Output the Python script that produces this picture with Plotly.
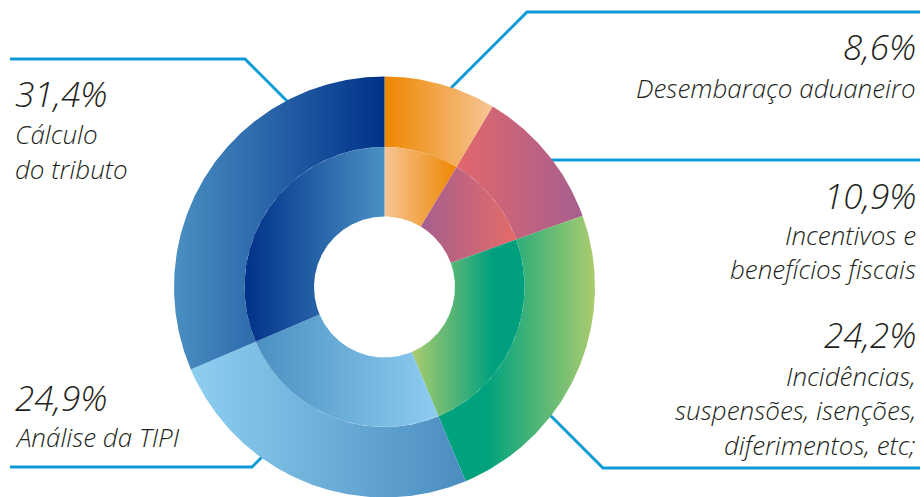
import numpy as np
import plotly.graph_objects as go

# Shares (%) clockwise from 12 o'clock
categories = ["Desembaraço aduaneiro", "Incentivos e benefícios fiscais",
              "Incidências, suspensões, isenções, diferimentos, etc;",
              "Análise da TIPI", "Cálculo do tributo"]
values = [8.6, 10.9, 24.2, 24.9, 31.4]
label_lines = [["Desembaraço aduaneiro"],
               ["Incentivos e", "benefícios fiscais"],
               ["Incidências,", "suspensões, isenções,", "diferimentos, etc;"],
               ["Análise da TIPI"],
               ["Cálculo", "do tributo"]]

# Horizontal gradient colour stops for each slice, outer ring and inner ring
outer_scales = [
    [[0, "#ee8700"], [1, "#f6c595"]],
    [[0, "#e2676c"], [1, "#a65f8f"]],
    [[0, "#00a27e"], [0.31, "#00a27e"], [1, "#abcc6e"]],
    [[0, "#8ecff1"], [1, "#4a8cbf"]],
    [[0, "#4a8fc2"], [1, "#003189"]],
]
inner_scales = [
    [[0, "#f6c595"], [1, "#ee8700"]],
    [[0, "#a65f8f"], [1, "#e56b68"]],
    [[0, "#abcc6e"], [0.72, "#00a07f"], [1, "#00a07f"]],
    [[0, "#4a90c2"], [1, "#8ecdf0"]],
    [[0, "#003189"], [1, "#4a91c4"]],
]

W, H = 924, 497
CX, CY = 384.5, 287.0
R_HOLE, R_MID, R_OUT = 70.5, 140.0, 210.5
LEAD = "#0d9bd8"
TXT = "#231f20"


def ring_segment(a0, a1, r_in, r_out):
    """Closed outline of an annular sector; angles in degrees clockwise from top."""
    n = max(int(abs(a1 - a0) * 2), 8)
    t_out = np.radians(np.linspace(a0, a1, n))
    t_in = t_out[::-1]
    xs = np.concatenate([CX + r_out * np.sin(t_out), CX + r_in * np.sin(t_in)])
    ys = np.concatenate([CY - r_out * np.cos(t_out), CY - r_in * np.cos(t_in)])
    return np.append(xs, xs[0]), np.append(ys, ys[0])


fig = go.Figure()

total = sum(values)
edges = np.concatenate([[0], np.cumsum(values)]) / total * 360.0
for i, cat in enumerate(categories):
    for (r0, r1, scale) in ((R_MID, R_OUT, outer_scales[i]), (R_HOLE, R_MID, inner_scales[i])):
        xs, ys = ring_segment(edges[i], edges[i + 1], r0, r1)
        fig.add_trace(go.Scatter(
            x=xs, y=ys, mode="lines", fill="toself",
            line=dict(width=0, color="rgba(0,0,0,0)"),
            fillgradient=dict(type="horizontal", colorscale=scale),
            name=cat, hoverinfo="name", showlegend=False,
        ))

# Leader lines (drawn beneath the rings)
leaders = [
    "M 920,12 L 527,12 L 440,99",
    "M 920,160 L 540,160",
    "M 920,468 L 603,468 L 540,405",
    "M 10,467 L 252,467 L 272,447",
    "M 10,59 L 245,59 L 300,114",
]
shapes = [dict(type="path", path=p, xref="x", yref="y", layer="below",
               line=dict(color=LEAD, width=3)) for p in leaders]

# Text blocks: (x, anchor, percent centre y, label line centres y)
blocks = [
    (918, "right", 45, [88]),
    (918, "right", 194, [235, 269]),
    (918, "right", 333, [376, 410, 445]),
    (13, "left", 396, [437]),
    (13, "left", 92, [134, 169]),
]
pct_font = dict(family="Open Sans", size=35, color=TXT, style="italic", weight=300)
lbl_font = dict(family="Open Sans", size=26, color=TXT, style="italic", weight=300)
annotations = []
for i, (x, anchor, py, ly) in enumerate(blocks):
    pct = f"{values[i]:.1f}".replace(".", ",") + "%"
    annotations.append(dict(
        x=x, y=py + 1, xref="x", yref="y", text=pct, showarrow=False,
        xanchor=anchor, yanchor="middle", font=pct_font))
    for line, y in zip(label_lines[i], ly):
        annotations.append(dict(
            x=x, y=y, xref="x", yref="y", text=line, showarrow=False,
            xanchor=anchor, yanchor="middle", font=lbl_font))

fig.update_layout(
    width=W, height=H, margin=dict(l=0, r=0, t=0, b=0),
    paper_bgcolor="white", plot_bgcolor="white",
    xaxis=dict(range=[0, W], visible=False, fixedrange=True),
    yaxis=dict(range=[H, 0], visible=False, fixedrange=True),
    shapes=shapes, annotations=annotations, showlegend=False,
)

fig.write_html("out.html")
